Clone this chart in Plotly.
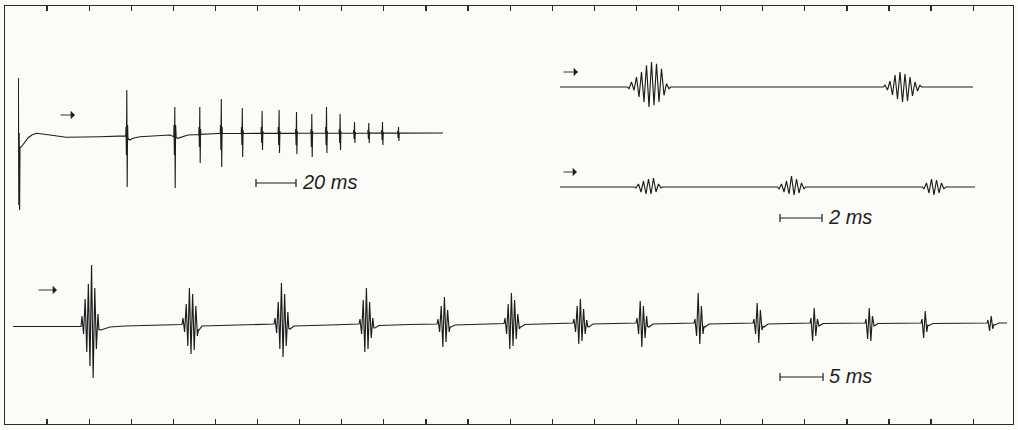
import numpy as np
import plotly.graph_objects as go

W, H = 1018, 430

# ---------------- data (time in ms, amplitude in arbitrary units, up = positive) ----------------
# Trace A (top left, 20 ms bar)
A_half = 0.2
A_onsets = [0.2, 54.0, 78.0, 90.5, 101.25, 111.75, 121.65, 130.15, 138.85, 146.5,
            153.85, 160.65, 167.85, 175.0, 181.85, 189.85]
A_peaks = [
    [57, -70, 2, -75, -12],
    [8, -20, 45, -52, 10, -5],
    [10, -20, 28, -53, 10, -5],
    [8, -12, 28, -28, 6],
    [10, -15, 36, -32, 8],
    [8, -10, 27, -22, 5],
    [8, -8, 24, -15, 4],
    [8, -10, 25, -18, 4],
    [6, -10, 23, -19, 4],
    [6, -12, 21, -22, 4],
    [8, -10, 28, -18, 4],
    [6, -8, 21, -15, 4],
    [5, -4, 13, -8, 3],
    [5, -4, 12, -8, 3],
    [5, -5, 13, -10, 3],
    [4, -3, 8, -6, 2],
]
A_base_t = [1.6, 3.5, 5.0, 6.9, 9.3, 16, 24, 41, 53.8, 55.8, 57.5, 61, 68, 76,
            79.8, 85, 100, 212.5]
A_base_v = [-12, -7, -3, 0, 1.7, 0, -2.3, -1.7, -0.7, -5, -3.3, -1.7, -1, 0,
            -3.3, 0, 1.5, 2]

# Trace B (top right, upper)
B_half = 0.119
B_onsets = [3.286, 15.476]
B_peaks = [
    [-1.7, 5, -3.3, 10, -10, 15, -15, 21.7, -20, 25, -18.3, 23.3, -15, 18.3, -8.3, 3.3, -1.7],
    [2, -3, 6, -8, 12, -12, 15, -15, 13, -14, 10, -9, 5, -4, 2],
]
B_base_t = [0.0, 19.667]
B_base_v = [0, 0]

# Trace C (top right, lower)
C_half = 0.119
C_onsets = [3.619, 10.429, 17.333]
C_peaks = [
    [-1, 3, -5, 6, -7, 8, -7, 9, -5, 3, -1],
    [-2, 3, -5, 6, -7, 11, -8, 8, -6, 4, -2],
    [-2, 4, -6, 8, -8, 7, -6, 4, -2],
]
C_base_t = [0.0, 19.762]
C_base_v = [0, 0]

# Trace D (bottom, 5 ms bar)
D_half = 0.186
D_onsets = [8.02, 19.77, 30.47, 40.35, 49.42, 57.21, 65.23, 72.56, 79.30, 86.16,
            92.79, 99.19, 105.70, 113.37]
D_peaks = [
    [8, -10, 25, -28, 40, -42, 59, -54, 36, -25, 10],
    [6, -8, 20, -22, 36, -30, 30, -26, 18, -12],
    [6, -9, 22, -25, 41, -33, 30, -22, 12],
    [5, -10, 24, -28, 36, -25, 22, -14, 6],
    [5, -8, 18, -23, 27, -18, 14, -8],
    [6, -10, 20, -25, 31, -22, 24, -15, 10, -5],
    [5, -8, 18, -20, 25, -17, 15, -10, 4],
    [6, -10, 23, -23, 18, -14, 8],
    [5, -12, 31, -20, 18, -10],
    [5, -10, 21, -19, 14, -6],
    [6, -17, 16, -12, 5],
    [5, -15, 16, -17, 8],
    [5, -14, 13, -8],
    [4, -7, 8, -5],
]
D_base_t = [0, 7.91, 10.23, 11.28, 13.02, 15.93, 19.65, 21.63, 21.98, 25.23, 30.35,
            32.21, 32.67, 36.86, 40.23, 42.09, 42.56, 46.16, 49.30, 50.93, 51.40,
            57.09, 59.07, 59.53, 65.12, 66.98, 67.44, 72.44, 73.95, 74.42, 79.19,
            80.47, 80.93, 86.05, 87.33, 87.79, 92.67, 93.72, 94.19, 99.07, 100.12,
            100.58, 105.58, 106.51, 106.98, 113.26, 114.19, 114.65, 115.58]
D_base_v = [-2.5, -2.5, -6, -3, -2, -1.5, -0.5, -6, -2, -1, 0,
            -5, -2, -1, 0, -4, -1.5, -0.5, 0, -3, -1,
            0.5, -3, -0.5, 1, -3, 0, 1, -3, 0, 1,
            -3, 0, 1, -3, 0, 1, -2, 0.5, 1, -2,
            0.5, 1, -1.5, 0.5, 1, -1, 1, 1]

# Scale bars: (start ms, length ms, level, label)
A_bar = (119.0, 20.0, -48, "20 ms")
C_bar = (10.476, 2.0, -31, "2 ms")
D_bar = (89.19, 5.0, -53, "5 ms")

# ---------------- layout geometry (pixels) ----------------
# name: (x_left, x_right, t_max, y_top, y_bottom, baseline_y)
panels = {
    "A": (18, 443, 212.5, 60, 222, 135),
    "B": (560, 975, 19.762, 50, 125, 87),
    "C": (560, 975, 19.762, 150, 235, 187),
    "D": (13, 1007, 115.58, 240, 400, 324),
}

INK = "#1e1e1e"


def build(onsets, peaks, half, base_t, base_v):
    """Merge resting-line anchors with burst excursions (bursts start and end on the resting line)."""
    ts = list(base_t)
    vs = list(base_v)
    for t0, pk in zip(onsets, peaks):
        t_end = t0 + (len(pk) - 1) * half
        for tt in (t0 - half * 0.6, t_end + half * 0.6):
            if base_t[0] <= tt <= base_t[-1]:
                ts.append(tt)
                vs.append(float(np.interp(tt, base_t, base_v)))
        for i, p in enumerate(pk):
            ts.append(t0 + i * half)
            vs.append(p)
    order = np.argsort(ts, kind="stable")
    return np.array(ts)[order], np.array(vs)[order]


fig = go.Figure()
layout = dict(
    width=W, height=H, margin=dict(l=0, r=0, t=0, b=0, pad=0),
    paper_bgcolor="#fbfbf8", plot_bgcolor="rgba(0,0,0,0)",
    showlegend=False, hovermode=False,
)

data = {
    "A": (A_onsets, A_peaks, A_half, A_base_t, A_base_v),
    "B": (B_onsets, B_peaks, B_half, B_base_t, B_base_v),
    "C": (C_onsets, C_peaks, C_half, C_base_t, C_base_v),
    "D": (D_onsets, D_peaks, D_half, D_base_t, D_base_v),
}
bars = {"A": A_bar, "C": C_bar, "D": D_bar}

annotations = []
for k, name in enumerate(["A", "B", "C", "D"], start=1):
    xl, xr, tmax, yt, yb, yb0 = panels[name]
    xa = "xaxis" if k == 1 else f"xaxis{k}"
    ya = "yaxis" if k == 1 else f"yaxis{k}"
    xr_ = "x" if k == 1 else f"x{k}"
    yr_ = "y" if k == 1 else f"y{k}"
    layout[xa] = dict(domain=[xl / W, xr / W], range=[0, tmax], visible=False,
                      anchor=yr_, fixedrange=True)
    layout[ya] = dict(domain=[(H - yb) / H, (H - yt) / H],
                      range=[yb0 - yb, yb0 - yt], visible=False, anchor=xr_,
                      fixedrange=True)
    t, v = build(*data[name])
    fig.add_trace(go.Scatter(x=t, y=v, mode="lines", xaxis=xr_, yaxis=yr_,
                             line=dict(color=INK, width=1.1 if name == "A" else 1.15)))
    if name in bars:
        t0, L, lev, lab = bars[name]
        cap = 4
        bx = [t0, t0, None, t0, t0 + L, None, t0 + L, t0 + L]
        by = [lev - cap, lev + cap, None, lev, lev, None, lev - cap, lev + cap]
        fig.add_trace(go.Scatter(x=bx, y=by, mode="lines", xaxis=xr_, yaxis=yr_,
                                 line=dict(color=INK, width=1.2)))
        annotations.append(dict(x=t0 + L, y=lev, xref=xr_, yref=yr_, text=lab,
                                showarrow=False, xanchor="left", yanchor="middle",
                                xshift=4, yshift=1,
                                font=dict(family="Liberation Sans", size=20,
                                          color=INK, style="italic")))

# Frame with time-mark ticks on top and bottom edges
layout["xaxis5"] = dict(domain=[5 / W, 1013 / W], range=[5, 1013], anchor="y5",
                        showline=True, linecolor="#2a2a2a", linewidth=1.3,
                        mirror="ticks", ticks="inside", ticklen=5, tickwidth=1.2,
                        tickcolor="#2a2a2a", tickmode="linear", tick0=47, dtick=42.1,
                        showticklabels=False, showgrid=False, zeroline=False,
                        fixedrange=True)
layout["yaxis5"] = dict(domain=[6 / H, 424 / H], range=[0, 1], anchor="x5",
                        showline=True, linecolor="#2a2a2a", linewidth=1.3,
                        mirror=True, ticks="", showticklabels=False,
                        showgrid=False, zeroline=False, fixedrange=True)
fig.add_trace(go.Scatter(x=[5], y=[0.5], mode="markers", xaxis="x5", yaxis="y5",
                         marker=dict(opacity=0)))

# Stimulus arrows (head x, head y, tail length) in pixels
arrows = [(75, 115, 16), (578, 72, 16), (577, 172, 15), (57, 290, 20)]
for hx, hy, L in arrows:
    annotations.append(dict(x=hx / W, y=1 - hy / H, xref="paper", yref="paper",
                            ax=-L, ay=0, text="", showarrow=True, arrowhead=1,
                            arrowsize=1.6, arrowwidth=0.9, arrowcolor=INK))

layout["annotations"] = annotations
fig.update_layout(**layout)
fig.write_html(
    "out.html",
    config={"staticPlot": True},
    post_script="document.body.style.margin='0px';document.body.style.overflow='hidden';",
)
